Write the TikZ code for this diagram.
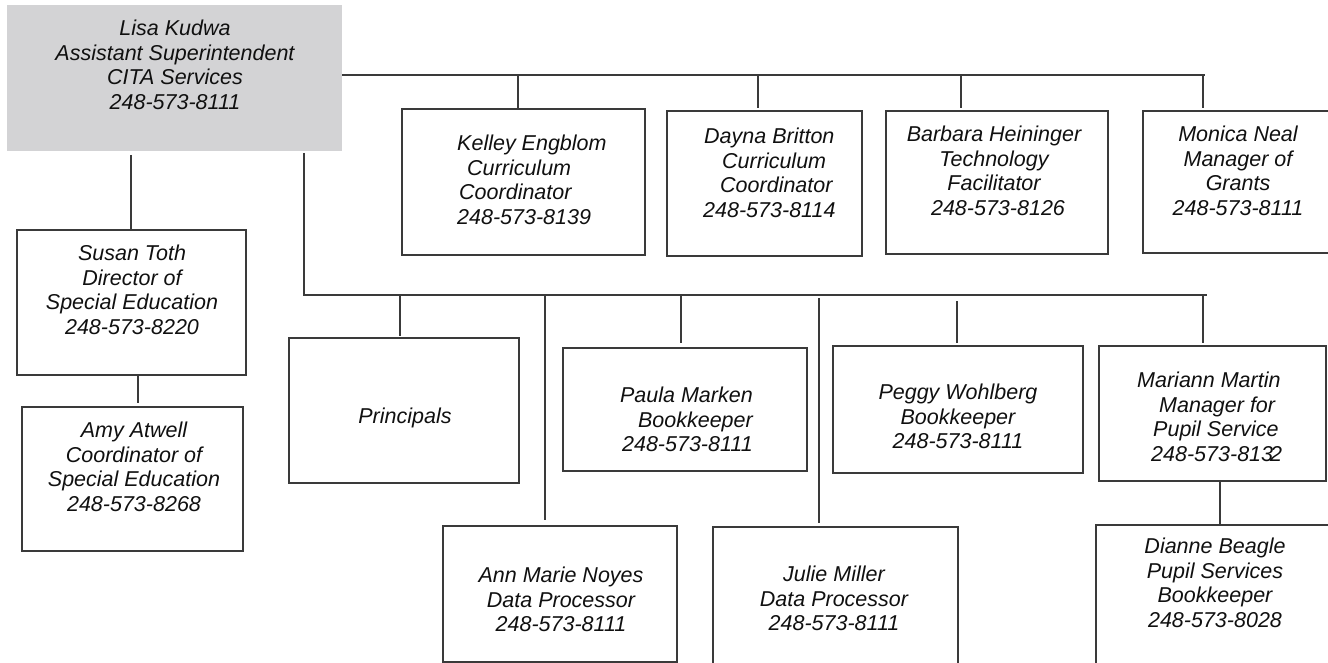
\documentclass[tikz,border=0pt]{standalone}
\usepackage{fontspec}
\setmainfont{Liberation Sans}
\definecolor{linec}{HTML}{3A3A3A}
\definecolor{textc}{HTML}{101010}
\definecolor{headfill}{HTML}{D3D3D5}
% box from corner (x1,y1) to (x2,y2), y measured downwards
\newcommand{\orgbox}[6][box]{%
  \node[#1, minimum width={(#5-#3)*1pt}, minimum height={(#6-#4)*1pt}]
    (#2) at ({(#3+#5)/2},{(#4+#6)/2}) {};}
\begin{document}
\begin{tikzpicture}[x=1pt,y=-1pt,
  box/.style={draw=linec, line width=1.4pt, rectangle, inner sep=0pt, outer sep=0pt},
  head/.style={fill=headfill, rectangle, inner sep=0pt, outer sep=0pt},
  txt/.style={font=\fontsize{21.5}{24.5}\selectfont\itshape, text=textc, inner sep=0pt},
  link/.style={draw=linec, line width=1.4pt}]
\useasboundingbox (0,0) rectangle (1328,663);
\clip (0,0) rectangle (1328,663);

% ---- boxes ----
\orgbox[head]{lisa}{7}{5}{342}{151}
\orgbox{kelley}{402}{109}{645}{255}
\orgbox{dayna}{667}{111}{862}{256}
\orgbox{barbara}{886}{111}{1108}{254}
\orgbox{monica}{1143}{111}{1345}{253}
\orgbox{susan}{17}{230}{246}{375}
\orgbox{amy}{22}{407}{243}{551}
\orgbox{principals}{289}{338}{519}{483}
\orgbox{paula}{563}{348}{807}{471}
\orgbox{peggy}{833}{346}{1083}{473}
\orgbox{mariann}{1099}{346}{1326}{481}
\orgbox{annmarie}{443}{526}{677}{662}
\orgbox{julie}{713}{527}{958}{700}
\orgbox{dianne}{1096}{525}{1350}{700}

% ---- texts ----
\node[txt, align=center, anchor=north] (t-lisa) at (175,20)
  {Lisa Kudwa\\Assistant Superintendent\\CITA Services\\248-573-8111};
\node[txt, align=left, anchor=north west] (t-kelley) at (457,135)
  {Kelley Engblom\\\hspace*{10pt}Curriculum\\\hspace*{2pt}Coordinator\\248-573-8139};
\node[txt, align=left, anchor=north west] (t-dayna) at (703,128)
  {\hspace*{1pt}Dayna Britton\\\hspace*{19pt}Curriculum\\\hspace*{17pt}Coordinator\\248-573-8114};
\node[txt, align=center, anchor=north] (t-barbara) at (994,126)
  {Barbara Heininger\\Technology\\Facilitator\\\hspace*{8pt}248-573-8126};
\node[txt, align=center, anchor=north] (t-monica) at (1238,126)
  {Monica Neal\\Manager of\\Grants\\248-573-8111};
\node[txt, align=center, anchor=north] (t-susan) at (132,245)
  {Susan Toth\\Director of\\Special Education\\248-573-8220};
\node[txt, align=center, anchor=north] (t-amy) at (134,422)
  {Amy Atwell\\Coordinator of\\Special Education\\248-573-8268};
\node[txt, align=center, anchor=north] (t-principals) at (405,408) {Principals};
\node[txt, align=right, anchor=north east] (t-paula) at (753,387)
  {Paula Marken\\Bookkeeper\hspace*{4pt}\\248-573-8111};
\node[txt, align=center, anchor=north] (t-peggy) at (958,384)
  {Peggy Wohlberg\\Bookkeeper\\248-573-8111};
\node[txt, align=left, anchor=north west] (t-mariann) at (1137,372)
  {Mariann Martin\\\hspace*{22pt}Manager for\\\hspace*{16pt}Pupil Service\\\hspace*{14pt}248-573-813\kern-3pt 2};
\node[txt, align=center, anchor=north] (t-annmarie) at (561,567)
  {Ann Marie Noyes\\Data Processor\\248-573-8111};
\node[txt, align=center, anchor=north] (t-julie) at (834,566)
  {Julie Miller\\Data Processor\\248-573-8111};
\node[txt, align=center, anchor=north] (t-dianne) at (1215,538)
  {Dianne Beagle\\Pupil Services\\Bookkeeper\\248-573-8028};

% ---- upper bus ----
\coordinate (busA) at (1205,75);
\draw[link] (lisa.east |- busA) -- (busA);
\coordinate (dK) at (518,75);
\coordinate (dD) at (758,75);
\coordinate (dB) at (961,75);
\coordinate (dM) at (1203,75);
\draw[link] (dK) -- (dK |- kelley.north);
\draw[link, shorten >=3pt] (dD) -- (dD |- dayna.north);
\draw[link, shorten >=3pt] (dB) -- (dB |- barbara.north);
\draw[link, shorten >=3pt] (dM) -- (dM |- monica.north);

% ---- left column ----
\coordinate (dS) at (131,155);
\draw[link] (dS) -- (dS |- susan.north);
\coordinate (dSA) at (138,0);
\draw[link, shorten >=4pt] (dSA |- susan.south) -- (dSA |- amy.north);

% ---- lower bus ----
\coordinate (busBw) at (304,295);
\coordinate (busBe) at (1207,295);
\draw[link] ([yshift=-2pt]lisa.south -| busBw) -- (busBw) -- (busBe);
\coordinate (dP) at (400,295);
\coordinate (dAM) at (545,295);
\coordinate (dPa) at (681,295);
\coordinate (dJ) at (819,295);
\coordinate (dPe) at (957,295);
\coordinate (dMa) at (1203,295);
\draw[link, shorten >=2pt] (dP) -- (dP |- principals.north);
\draw[link, shorten >=6pt] (dAM) -- (dAM |- annmarie.north);
\draw[link, shorten >=5pt] (dPa) -- (dPa |- paula.north);
\draw[link, shorten <=3pt, shorten >=4pt] (dJ) -- (dJ |- julie.north);
\draw[link, shorten <=6pt, shorten >=3pt] (dPe) -- (dPe |- peggy.north);
\draw[link, shorten >=3pt] (dMa) -- (dMa |- mariann.north);

% ---- pupil services ----
\coordinate (dMD) at (1220,0);
\draw[link] (dMD |- mariann.south) -- (dMD |- dianne.north);
\end{tikzpicture}
\end{document}
